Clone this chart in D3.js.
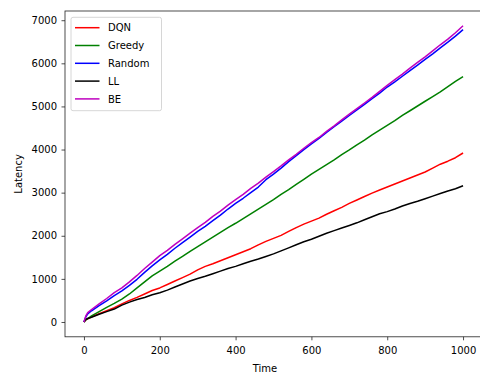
<!DOCTYPE html>
<html><head><meta charset="utf-8">
<script src="https://cdn.jsdelivr.net/npm/d3@7"></script>
<style>body{margin:0;background:#fff}svg{display:block}text{font-family:"DejaVu Sans",sans-serif;fill:#000}</style>
</head><body><svg id="c" width="480" height="373"></svg>
<script>
const time = [0,5,10,20,40,60,80,100,120,140,160,180,200,220,240,260,280,300,320,340,360,380,400,420,440,460,480,500,520,540,560,580,600,620,640,660,680,700,720,740,760,780,800,820,840,860,880,900,920,940,960,980,1000];
const dqn = [0,50,75,120,190,260,330,420,500,570,650,730,790,870,950,1030,1110,1210,1290,1350,1420,1490,1560,1630,1700,1790,1870,1940,2010,2100,2190,2270,2340,2410,2500,2580,2660,2750,2830,2910,2990,3060,3130,3200,3270,3340,3410,3480,3570,3660,3730,3810,3920];
const greedy = [0,50,80,140,240,340,430,530,650,790,930,1070,1180,1290,1410,1520,1640,1750,1860,1970,2080,2190,2290,2400,2510,2620,2730,2840,2960,3070,3190,3310,3430,3540,3650,3760,3880,3990,4110,4220,4340,4450,4560,4670,4790,4900,5010,5120,5230,5340,5460,5580,5690];
const random = [0,120,190,260,380,490,610,720,850,990,1150,1300,1440,1570,1710,1840,1970,2100,2220,2350,2480,2620,2750,2870,3000,3130,3300,3430,3570,3720,3860,4000,4130,4260,4400,4530,4660,4790,4920,5050,5180,5310,5450,5570,5700,5830,5960,6090,6220,6360,6490,6630,6780];
const ll = [0,60,80,110,180,240,300,390,460,520,570,630,680,740,810,880,950,1010,1060,1120,1180,1240,1290,1350,1410,1460,1520,1580,1650,1720,1790,1860,1920,1990,2060,2120,2180,2240,2300,2370,2440,2510,2560,2620,2690,2750,2800,2860,2920,2980,3040,3090,3160];
const be = [0,140,216,290,420,545,680,790,930,1080,1240,1390,1540,1660,1800,1930,2060,2190,2310,2450,2570,2710,2840,2960,3100,3220,3360,3490,3620,3760,3890,4030,4160,4280,4420,4550,4690,4820,4950,5080,5210,5350,5490,5620,5750,5890,6020,6150,6290,6430,6560,6710,6870];
const seriesNames = ["DQN","Greedy","Random","LL","BE"];
const seriesColors = ["#ff0000","#008000","#0000ff","#000000","#bf00bf"];
const seriesValues = [dqn, greedy, random, ll, be];
const xTicks = [0,200,400,600,800,1000];
const yTicks = [0,1000,2000,3000,4000,5000,6000,7000];

const svg = d3.select("#c");
const L = 65, R = 482, T = 11, B = 336.8;
const x = d3.scaleLinear().domain([-50,1050]).range([L,R]);
const y = d3.scaleLinear().domain([-343.5,7213.5]).range([B,T]);

const g = svg.append("g");
const line = d3.line().x((d,i)=>x(time[i])).y(d=>y(d));
seriesValues.forEach((vals,k)=>{
  g.append("path").datum(vals).attr("d",line).attr("fill","none")
   .attr("stroke",seriesColors[k]).attr("stroke-width",1.5).attr("stroke-linejoin","round");
});

// spines
svg.append("rect").attr("x",L).attr("y",T).attr("width",R-L).attr("height",B-T)
  .attr("fill","none").attr("stroke","#222").attr("stroke-width",0.8);

const xa = svg.append("g").attr("transform",`translate(0,${B})`)
  .call(d3.axisBottom(x).tickValues(xTicks).tickSize(3.5).tickPadding(7).tickFormat(d3.format("d")));
const ya = svg.append("g").attr("transform",`translate(${L},0)`)
  .call(d3.axisLeft(y).tickValues(yTicks).tickSize(3.5).tickPadding(4.5).tickFormat(d3.format("d")));
[xa,ya].forEach(a=>{
  a.select(".domain").remove();
  a.selectAll("line").attr("stroke","#222").attr("stroke-width",0.8);
  a.selectAll("text").attr("font-size",10).attr("font-family","DejaVu Sans").attr("fill","#000");
});

svg.append("text").attr("x",(L+463)/2+1).attr("y",371.5).attr("text-anchor","middle").attr("font-size",10).text("Time");
svg.append("text").attr("transform",`translate(21.5,${(T+B)/2}) rotate(-90)`).attr("text-anchor","middle").attr("font-size",10).text("Latency");

// legend
const lg = svg.append("g");
lg.append("rect").attr("x",71).attr("y",17.3).attr("width",90.5).attr("height",93.4).attr("rx",2)
  .attr("fill","#fff").attr("fill-opacity",0.8).attr("stroke","#cccccc").attr("stroke-width",0.8);
seriesNames.forEach((n,k)=>{
  const yy = 27.7 + k*17.8;
  lg.append("line").attr("x1",75).attr("x2",99.5).attr("y1",yy).attr("y2",yy)
    .attr("stroke",seriesColors[k]).attr("stroke-width",1.5);
  lg.append("text").attr("x",108).attr("y",yy+3.6).attr("font-size",10).text(n);
});
</script></body></html>
